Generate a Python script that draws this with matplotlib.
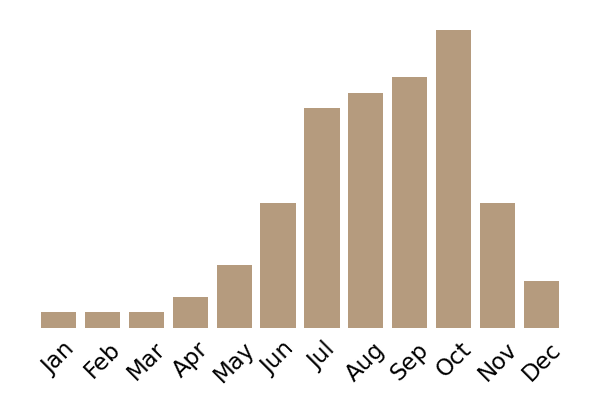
import matplotlib
matplotlib.use("Agg")
import matplotlib.pyplot as plt

months = ["Jan", "Feb", "Mar", "Apr", "May", "Jun",
          "Jul", "Aug", "Sep", "Oct", "Nov", "Dec"]
counts = [1, 1, 1, 2, 4, 8, 14, 15, 16, 19, 8, 3]

fig = plt.figure(figsize=(6, 4), dpi=100)
ax = fig.add_axes([0.061, 0.18, 0.878, 0.745])
ax.bar(range(len(months)), counts, width=0.8, color="#b59b7e")
ax.set_xlim(-0.5, len(months) - 0.5)
ax.set_ylim(0, max(counts))
ax.set_xticks(range(len(months)))
ax.set_xticklabels(months, rotation=45, ha="center", fontsize=16.5)
ax.tick_params(axis="x", length=0, pad=7)
ax.set_yticks([])
for s in ax.spines.values():
    s.set_visible(False)

fig.savefig("out.png", dpi=100)
